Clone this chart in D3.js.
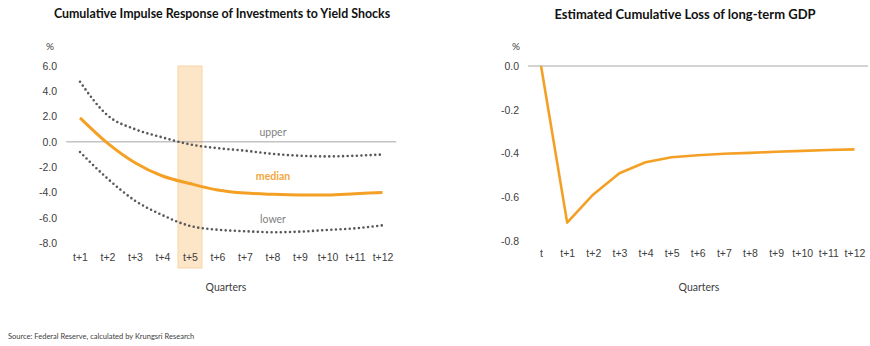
<!DOCTYPE html>
<html>
<head>
<meta charset="utf-8">
<script src="https://cdn.jsdelivr.net/npm/d3@7"></script>
<style>
  body { margin: 0; background: #fff; }
  svg { display: block; font-family: Lato, "Open Sans", sans-serif; }
  .tick text { fill: #404040; font-size: 10.5px; }
</style>
</head>
<body>
<div id="vis"></div>
<script>
// Left panel: cumulative impulse response (%)
const quartersL = ["t+1","t+2","t+3","t+4","t+5","t+6","t+7","t+8","t+9","t+10","t+11","t+12"];
const upper  = [4.75, 2.1, 1.0, 0.35, -0.2, -0.5, -0.7, -0.95, -1.1, -1.15, -1.1, -1.0];
const median = [1.9, -0.1, -1.65, -2.7, -3.3, -3.8, -4.05, -4.15, -4.2, -4.2, -4.1, -4.0];
const lower  = [-0.8, -2.9, -4.65, -5.8, -6.65, -6.95, -7.07, -7.15, -7.1, -6.97, -6.84, -6.6];
const highlightQ = "t+5";
const ticksL = [6, 4, 2, 0, -2, -4, -6, -8];

// Right panel: estimated cumulative GDP loss (%)
const quartersR = ["t","t+1","t+2","t+3","t+4","t+5","t+6","t+7","t+8","t+9","t+10","t+11","t+12"];
const gdpLoss = [0, -0.716, -0.587, -0.49, -0.44, -0.417, -0.408, -0.401, -0.397, -0.392, -0.388, -0.384, -0.381];
const ticksR = [0, -0.2, -0.4, -0.6, -0.8];

const width = 870, height = 346;
const orange = "#f4a024";

const svg = d3.select("#vis").append("svg")
  .attr("width", width)
  .attr("height", height);

// ==================== LEFT CHART ====================
const xL = d3.scalePoint().domain(quartersL).range([66.25, 396.25]).padding(0.5);
const xBandL = d3.scaleBand().domain(quartersL).range([66.25, 396.25]);
const yL = d3.scaleLinear().domain([-8, 6]).range([243, 66]);

svg.append("text")
  .attr("x", 222).attr("y", 18)
  .attr("text-anchor", "middle")
  .attr("font-weight", "bold")
  .attr("font-size", "12.4px")
  .attr("fill", "#111")
  .text("Cumulative Impulse Response of Investments to Yield Shocks");

// highlighted quarter
svg.append("rect")
  .attr("x", xBandL(highlightQ) + (xBandL.bandwidth() - 24) / 2)
  .attr("y", yL(6))
  .attr("width", 24)
  .attr("height", 268 - yL(6))
  .attr("fill", "#fde6c7")
  .attr("stroke", "#f7d5a3")
  .attr("stroke-width", 1);

// zero line
svg.append("line")
  .attr("x1", 66.25).attr("x2", 396.25)
  .attr("y1", yL(0)).attr("y2", yL(0))
  .attr("stroke", "#a6a6a6").attr("stroke-width", 1);

// y axis labels
svg.append("g")
  .attr("transform", "translate(57,0)")
  .call(d3.axisLeft(yL).tickValues(ticksL).tickSize(0).tickPadding(0).tickFormat(d => d.toFixed(1)))
  .call(g => g.select(".domain").remove());

svg.append("text")
  .attr("x", 50).attr("y", 50)
  .attr("text-anchor", "middle")
  .attr("font-size", "10px").attr("fill", "#404040")
  .text("%");

// x axis labels
svg.append("g")
  .attr("transform", "translate(0,254)")
  .call(d3.axisBottom(xL).tickSize(0).tickPadding(0))
  .call(g => g.select(".domain").remove());

svg.append("text")
  .attr("x", 226).attr("y", 291)
  .attr("text-anchor", "middle")
  .attr("font-size", "10.5px").attr("fill", "#404040")
  .text("Quarters");

const lineL = data => d3.line()
  .x((d, i) => xL(quartersL[i]))
  .y(d => yL(d))
  .curve(d3.curveMonotoneX)(data);

[upper, lower].forEach(series => {
  svg.append("path")
    .attr("d", lineL(series))
    .attr("fill", "none")
    .attr("stroke", "#595959")
    .attr("stroke-width", 2.6)
    .attr("stroke-linecap", "round")
    .attr("stroke-dasharray", "0 4.6");
});

svg.append("path")
  .attr("d", lineL(median))
  .attr("fill", "none")
  .attr("stroke", orange)
  .attr("stroke-width", 3)
  .attr("stroke-linejoin", "round");

// series labels
svg.append("text")
  .attr("x", 273).attr("y", 136)
  .attr("text-anchor", "middle")
  .attr("font-size", "10.5px").attr("fill", "#7f7f7f")
  .text("upper");

svg.append("text")
  .attr("x", 273).attr("y", 180)
  .attr("text-anchor", "middle")
  .attr("font-size", "10.5px").attr("font-weight", "bold").attr("fill", "#f2a63c")
  .text("median");

svg.append("text")
  .attr("x", 273).attr("y", 223)
  .attr("text-anchor", "middle")
  .attr("font-size", "10.5px").attr("fill", "#7f7f7f")
  .text("lower");

// ==================== RIGHT CHART ====================
const xR = d3.scalePoint().domain(quartersR).range([528, 867.5]).padding(0.5);
const yR = d3.scaleLinear().domain([-0.8, 0]).range([241, 66]);

svg.append("text")
  .attr("x", 685).attr("y", 19)
  .attr("text-anchor", "middle")
  .attr("font-weight", "bold")
  .attr("font-size", "13px")
  .attr("fill", "#111")
  .text("Estimated Cumulative Loss of long-term GDP");

svg.append("line")
  .attr("x1", 528).attr("x2", 868)
  .attr("y1", yR(0)).attr("y2", yR(0))
  .attr("stroke", "#a6a6a6").attr("stroke-width", 1);

svg.append("g")
  .attr("transform", "translate(519,0)")
  .call(d3.axisLeft(yR).tickValues(ticksR).tickSize(0).tickPadding(0).tickFormat(d => d.toFixed(1)))
  .call(g => g.select(".domain").remove());

svg.append("text")
  .attr("x", 516).attr("y", 50)
  .attr("text-anchor", "middle")
  .attr("font-size", "10px").attr("fill", "#404040")
  .text("%");

svg.append("g")
  .attr("transform", "translate(0,250)")
  .call(d3.axisBottom(xR).tickSize(0).tickPadding(0))
  .call(g => g.select(".domain").remove());

svg.append("text")
  .attr("x", 699).attr("y", 291)
  .attr("text-anchor", "middle")
  .attr("font-size", "10.5px").attr("fill", "#404040")
  .text("Quarters");

svg.append("path")
  .attr("d", d3.line()
    .x((d, i) => xR(quartersR[i]))
    .y(d => yR(d))(gdpLoss))
  .attr("fill", "none")
  .attr("stroke", orange)
  .attr("stroke-width", 2.6)
  .attr("stroke-linejoin", "round");

// ==================== SOURCE ====================
svg.append("text")
  .attr("x", 8).attr("y", 339)
  .attr("font-size", "7.5px").attr("fill", "#404040")
  .text("Source: Federal Reserve, calculated by Krungsri Research");
</script>
</body>
</html>
